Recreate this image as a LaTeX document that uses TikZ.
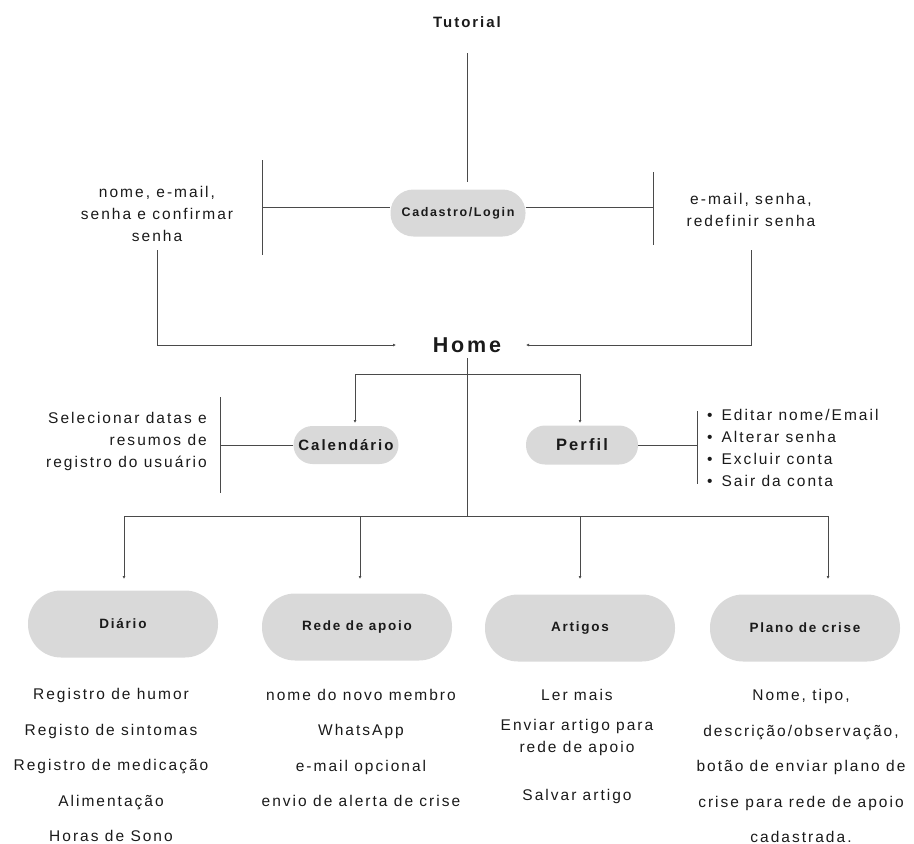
\documentclass[tikz,border=0pt]{standalone}
\usepackage{fontspec}
\setmainfont{Liberation Sans}[LetterSpace=13]
\usetikzlibrary{arrows.meta}
\definecolor{pillgray}{HTML}{D9D9D9}
\definecolor{linegray}{HTML}{4A4A4A}
\definecolor{txt}{HTML}{1A1A1A}
\begin{document}
\begin{tikzpicture}[x=1pt,y=-1pt,
  line/.style={draw=linegray, line width=0.9pt},
  arr/.style={line, -{Latex[length=3pt,width=3pt]}},
  pill/.style={fill=pillgray, text=txt, inner sep=0pt},
  body/.style={text=txt, font=\fontsize{15.5}{22}\selectfont, inner sep=0pt},
  bold/.style={text=txt, inner sep=0pt}
]
\useasboundingbox (0,0) rectangle (914,844);

% top
\node[bold, font=\bfseries\fontsize{15}{17}\selectfont] (tut) at (467,22) {Tutorial};
\node[pill, minimum width=135, minimum height=47, rounded corners=23,
      font=\bfseries\fontsize{12.5}{14}\selectfont] (cad) at (458,213) {Cadastro/Login};
\coordinate (tutb) at (467,53);
\coordinate (cadt) at (467,182);
\draw[line] (tutb) -- (cadt);

% left side of login
\coordinate (lbt) at (262,160);
\coordinate (lbb) at (262,255);
\coordinate (lbm) at (262,207);
\draw[line] (lbt) -- (lbb);
\draw[line] (lbm) -- (cad.west |- lbm);
\node[body, align=center] (lt) at (157,214) {nome, e-mail,\\senha e confirmar\\senha};

% right side of login
\coordinate (rbt) at (653,172);
\coordinate (rbb) at (653,245);
\coordinate (rbm) at (653,207);
\draw[line] (rbt) -- (rbb);
\draw[line] (cad.east |- rbm) -- (rbm);
\node[body, align=center] (rt) at (751,210) {e-mail, senha,\\redefinir senha};

% Home
\node[bold, font=\bfseries\fontsize{21.5}{26}\selectfont] (home) at (467,345) {Home};
\coordinate (lda) at (157,250);
\coordinate (lcorner) at (157,345);
\coordinate (lin) at (396,345);
\draw[arr] (lda) -- (lcorner) -- (lin);
\coordinate (rda) at (751,250);
\coordinate (rcorner) at (751,345);
\coordinate (rin) at (526,345);
\draw[arr] (rda) -- (rcorner) -- (rin);

% home stem
\coordinate (hs) at (467,358);
\coordinate (hub1) at (467,374);
\coordinate (hub2) at (467,516);
\draw[line] (hs) -- (hub2);

% Calendario / Perfil
\node[pill, minimum width=105, minimum height=38, rounded corners=19,
      font=\bfseries\fontsize{15}{17}\selectfont] (cal) at (346,445) {Calendário};
\node[pill, minimum width=112, minimum height=39, rounded corners=19,
      font=\bfseries\fontsize{16.5}{19}\selectfont] (per) at (582,445) {Perfil};
\coordinate (calin) at (355,423);
\coordinate (perin) at (580,423);
\draw[arr] (hub1) -| (calin);
\draw[arr] (hub1) -| (perin);

\coordinate (cbt) at (220,397);
\coordinate (cbb) at (220,493);
\coordinate (cbm) at (220,445);
\draw[line] (cbt) -- (cbb);
\draw[line] (cal.west) -- (cbm);
\node[body, align=right, anchor=east] (ct) at (207,441) {Selecionar datas e\\resumos de\\registro do usuário};

\coordinate (pbt) at (697,411);
\coordinate (pbb) at (697,484);
\coordinate (pbm) at (697,445);
\draw[line] (pbt) -- (pbb);
\draw[line] (per.east) -- (pbm);
\node[body, align=left, anchor=west] (pt) at (707,448) {•\hspace{9pt}Editar nome/Email\\•\hspace{9pt}Alterar senha\\•\hspace{9pt}Excluir conta\\•\hspace{9pt}Sair da conta};

% bottom branches
\coordinate (d1) at (124,579);
\coordinate (d2) at (360,579);
\coordinate (d3) at (580,579);
\coordinate (d4) at (828,579);
\draw[arr] (hub2) -| (d1);
\draw[arr] (hub2) -| (d2);
\draw[arr] (hub2) -| (d3);
\draw[arr] (hub2) -| (d4);

\tikzset{bpill/.style={pill, minimum width=190, minimum height=67, rounded corners=33,
      font=\bfseries\fontsize{13.5}{15}\selectfont}}
\node[bpill] (dia) at (123,624) {Diário};
\node[bpill] (rede) at (357,627) {Rede de apoio};
\node[bpill] (art) at (580,628) {Artigos};
\node[bpill] (plano) at (805,628) {Plano de crise};

% bottom texts
\node[body, align=center, font=\fontsize{15.5}{35.5}\selectfont] (diat) at (111,765)
  {Registro de humor\\Registo de sintomas\\Registro de medicação\\Alimentação\\Horas de Sono};
\node[body, align=center, font=\fontsize{15.5}{35.5}\selectfont] (redet) at (361,748)
  {nome do novo membro\\WhatsApp\\e-mail opcional\\envio de alerta de crise};
\node[body] (art1) at (577,695) {Ler mais};
\node[body, align=center] (art2) at (577,737) {Enviar artigo para\\rede de apoio};
\node[body] (art3) at (577,796) {Salvar artigo};
\node[body, align=center, font=\fontsize{15.5}{35.5}\selectfont] (planot) at (801,766)
  {Nome, tipo,\\descrição/observação,\\botão de enviar plano de\\crise para rede de apoio\\cadastrada.};
\end{tikzpicture}
\end{document}
